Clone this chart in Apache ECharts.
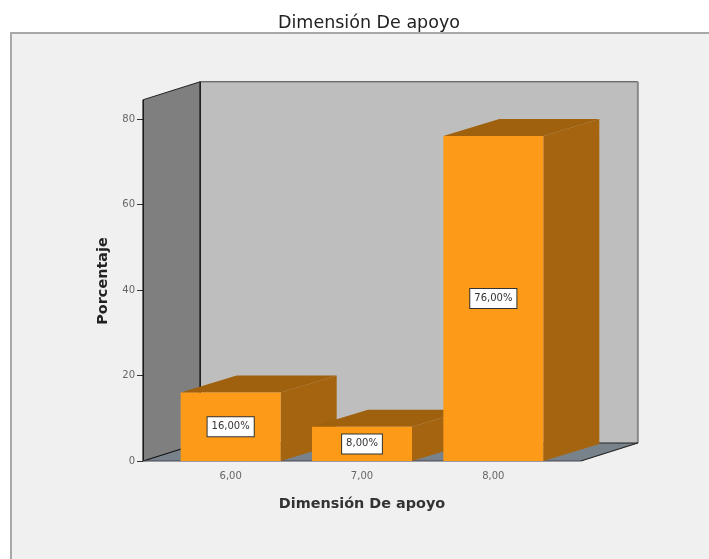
<!DOCTYPE html>
<html><head><meta charset="utf-8">
<style>html,body{margin:0;padding:0;background:#fff}#c{width:709px;height:559px}</style>
<script src="https://cdn.jsdelivr.net/npm/echarts@6/dist/echarts.min.js"></script>
</head><body><div id="c"></div>
<script>
const titleText = "Dimensión De apoyo";
const xName = "Dimensión De apoyo";
const yName = "Porcentaje";
const categories = ["6,00", "7,00", "8,00"];
const percentages = [16, 8, 76];
const barLabels = ["16,00%", "8,00%", "76,00%"];
const yTop = 84.5;

const DX = 57, DY = -18, BAR_W = 100, PAD = 87.5;
const FRONT = "#fd9a17", SIDE = "#a5640f", TOPC = "#a0610e";
const FONT = "DejaVu Sans";
const chart = echarts.init(document.getElementById("c"), null, {renderer: "canvas"});

function poly(points, fill) {
  return {type: "polygon", shape: {points}, style: {fill, stroke: null}};
}
function line(a, b, color, w) {
  return {type: "line", shape: {x1: a[0], y1: a[1], x2: b[0], y2: b[1]}, style: {stroke: color, lineWidth: w}};
}
function renderWalls(params, api) {
  const first = api.coord([0, 0]), last = api.coord([categories.length - 1, 0]);
  const top = api.coord([0, yTop])[1], y0 = first[1];
  const xl = first[0] - PAD, xr = last[0] + PAD;
  const bl = [xl + DX, y0 + DY], br = [xr + DX, y0 + DY];
  const tl = [xl + DX, top + DY], tr = [xr + DX, top + DY];
  return {type: "group", children: [
    poly([tl, tr, br, bl], "#bebebe"),
    poly([[xl, top], tl, bl, [xl, y0]], "#7f7f7f"),
    poly([[xl, y0], bl, br, [xr, y0]], "#78828a"),
    line(tl, tr, "#444", 1.2),
    line(tr, br, "#888", 2),
    line(bl, br, "#222", 1),
    line(tl, bl, "#111", 1.5),
    line([xl, top], tl, "#222", 1),
    line([xl, top], [xl, y0], "#111", 1.5),
    line([xl, y0], bl, "#111", 1.2),
    line([xr, y0], br, "#222", 1.2),
    line([xl, y0], [xr, y0], "#445", 1)
  ]};
}
function renderDepth(params, api) {
  const c = api.coord([api.value(0), api.value(1)]);
  const y0 = api.coord([api.value(0), 0])[1];
  const l = c[0] - BAR_W / 2, r = c[0] + BAR_W / 2, t = c[1];
  return {type: "group", children: [
    poly([[l, t], [l + DX - 1, t + DY + 1], [r + DX - 1, t + DY + 1], [r, t]], TOPC),
    poly([[r, t], [r + DX - 1, t + DY + 1], [r + DX - 1, y0 + DY + 1], [r, y0]], SIDE)
  ]};
}
chart.setOption({
  animation: false,
  backgroundColor: "#ffffff",
  textStyle: {fontFamily: FONT},
  graphic: [{type: "rect", z: -10, silent: true,
    shape: {x: 11, y: 33, width: 720, height: 560},
    style: {fill: "#f0f0f0", stroke: "#a8a8a8", lineWidth: 2}}],
  title: {text: titleText, left: 364, top: 9, textAlign: "center",
    textStyle: {fontFamily: FONT, fontSize: 17.5, fontWeight: "normal", color: "#222"}},
  grid: {left: 165, top: 119, width: 394, height: 342},
  xAxis: {type: "category", data: categories, name: xName, nameLocation: "middle", nameGap: 36,
    nameTextStyle: {fontFamily: FONT, fontSize: 14.4, fontWeight: "bold", color: "#333"},
    axisLine: {show: false},
    axisTick: {alignWithLabel: true, length: 5, lineStyle: {color: "#666"}},
    axisLabel: {fontFamily: FONT, fontSize: 10, color: "#666", margin: 10},
    splitLine: {show: false}},
  yAxis: {type: "value", min: 0, max: 80, interval: 20, offset: 22,
    name: yName, nameLocation: "middle", nameGap: 33,
    nameTextStyle: {fontFamily: FONT, fontSize: 14.4, fontWeight: "bold", color: "#222", padding: [0, 0, 0, 18]},
    axisLine: {show: false},
    axisTick: {show: true, length: 6, lineStyle: {color: "#333"}},
    axisLabel: {fontFamily: FONT, fontSize: 10, color: "#666", margin: 8},
    splitLine: {show: false}},
  series: [
    {type: "custom", name: "walls", z: 1, clip: false, renderItem: renderWalls, data: [[0, 0]], silent: true,
      encode: {x: 0, y: 1}},
    {type: "custom", name: "depth", z: 2, clip: false, renderItem: renderDepth, silent: true,
      data: percentages.map((v, i) => [i, v]), encode: {x: 0, y: 1}},
    {type: "bar", name: "Porcentaje", z: 3, barWidth: BAR_W, data: percentages,
      itemStyle: {color: FRONT},
      label: {show: true, position: "inside",
        formatter: p => barLabels[p.dataIndex],
        fontFamily: FONT, fontSize: 10, color: "#333", backgroundColor: "#fff",
        borderColor: "#333", borderWidth: 1, padding: [5, 4, 4, 4]}}
  ]
});
</script></body></html>
